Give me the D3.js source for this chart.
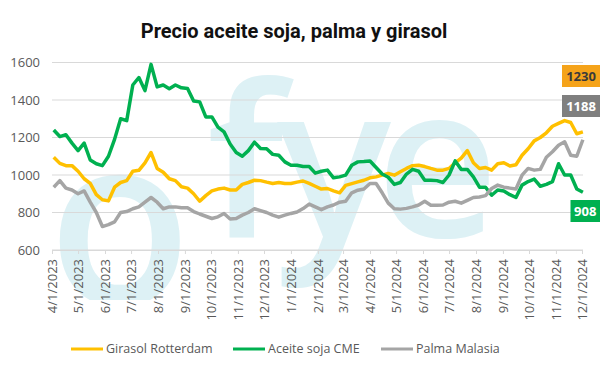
<!DOCTYPE html>
<html>
<head>
<meta charset="utf-8">
<script src="https://d3js.org/d3.v7.min.js"></script>
<style>
  body { margin: 0; background: #fff; }
  svg { display: block; }
</style>
</head>
<body>
<script>
// weekly observations, first one on 3 Apr 2023, last one on 2 Dec 2024
var firstWeek = "2023-04-03";
var weekCount = 88;

// Girasol Rotterdam (USD/t)
var girasol = [1095, 1062, 1050, 1050, 1020, 980, 955, 895, 868, 862,
  935, 960, 970, 1020, 1025, 1065, 1120, 1035, 1015, 980,
  970, 937, 930, 900, 860, 890, 915, 925, 930, 920,
  920, 950, 960, 972, 970, 962, 955, 960, 955, 955,
  962, 968, 955, 940, 925, 928, 915, 905, 945, 954,
  963, 972, 985, 990, 999, 1008, 999, 1017, 1035, 1050,
  1052, 1045, 1035, 1026, 1026, 1035, 1065, 1090, 1130, 1065,
  1035, 1040, 1026, 1060, 1065, 1048, 1055, 1105, 1140, 1182,
  1200, 1225, 1260, 1275, 1290, 1280, 1220, 1230];

// Aceite soja CME
var soja = [1240, 1205, 1215, 1170, 1130, 1170, 1080, 1060, 1050, 1100,
  1190, 1300, 1290, 1480, 1520, 1450, 1590, 1470, 1480, 1460,
  1480, 1465, 1461, 1395, 1390, 1310, 1310, 1255, 1230, 1165,
  1120, 1100, 1130, 1175, 1141, 1140, 1110, 1105, 1070, 1052,
  1052, 1045, 1045, 1010, 1020, 1026, 985, 990, 999, 1052,
  1070, 1072, 1075, 1040, 1005, 988, 950, 960, 1005, 1030,
  1020, 972, 972, 970, 960, 1000, 1075, 1030, 1030, 990,
  935, 935, 892, 920, 915, 895, 880, 946, 965, 978,
  940, 950, 965, 1060, 1000, 1000, 925, 908];

// Palma Malasia
var palma = [935, 970, 930, 920, 900, 915, 855, 800, 725, 735,
  750, 800, 805, 820, 830, 855, 880, 855, 820, 830,
  830, 825, 825, 805, 792, 780, 768, 777, 795, 765,
  768, 786, 800, 820, 810, 800, 786, 775, 786, 795,
  803, 821, 845, 830, 815, 830, 840, 855, 860, 905,
  919, 925, 955, 955, 905, 850, 820, 818, 822, 830,
  840, 860, 839, 839, 840, 855, 860, 850, 865, 880,
  883, 890, 928, 946, 935, 930, 925, 999, 1035, 1026,
  1030, 1095, 1124, 1159, 1177, 1105, 1100, 1188];

var seriesNames = ["Girasol Rotterdam", "Aceite soja CME", "Palma Malasia"];
var seriesColors = ["#ffc000", "#00b050", "#a5a5a5"];
var yTicks = [600, 800, 1000, 1200, 1400, 1600];
var endLabels = ["1230", "1188", "908"];

var w = 600, h = 372;
var svg = d3.select("body").append("svg").attr("width", w).attr("height", h);
var defs = svg.append("defs");

var t0 = d3.utcParse("%Y-%m-%d")(firstWeek);
var dates = d3.range(weekCount).map(function(i) { return d3.utcDay.offset(t0, 7 * i); });

var x = d3.scaleUtc()
  .domain([new Date(Date.UTC(2023, 3, 1)), new Date(Date.UTC(2024, 11, 1))])
  .range([52, 582]);
var y = d3.scaleLinear().domain([600, 1600]).range([250, 62.5]);

// faint "ofye" watermark behind the plot
defs.append("clipPath").attr("id", "wmclip")
  .append("rect").attr("x", 0).attr("y", 50).attr("width", w).attr("height", 250);
var wm = svg.append("text")
  .attr("clip-path", "url(#wmclip)")
  .style("font-family", "'Open Sans', sans-serif")
  .style("font-weight", 600)
  .style("font-size", "213px")
  .style("fill", "#ddf1f5");
wm.append("tspan").attr("x", 48).attr("y", 305).style("font-size", "235px").text("o");
[["f", 207], ["y", 277], ["e", 376]].forEach(function(l) {
  wm.append("tspan").attr("x", l[1]).attr("y", 237).text(l[0]);
});

// title
svg.append("text")
  .attr("x", 294).attr("y", 38)
  .attr("text-anchor", "middle")
  .style("font-family", "Roboto, sans-serif")
  .style("font-weight", 700)
  .style("font-size", "20px")
  .style("fill", "#111")
  .text("Precio aceite soja, palma y girasol");

// gridlines
svg.append("g").selectAll("line")
  .data(yTicks)
  .enter().append("line")
  .attr("x1", 52).attr("x2", 583)
  .attr("y1", function(d) { return y(d); })
  .attr("y2", function(d) { return y(d); })
  .style("stroke", "#d9d9d9")
  .style("stroke-width", 1);

// y axis labels
var yAxis = d3.axisLeft(y).tickValues(yTicks).tickSize(0).tickPadding(12).tickFormat(d3.format("d"));
var gy = svg.append("g").attr("transform", "translate(52,0)").call(yAxis);
gy.select(".domain").remove();
gy.selectAll("text")
  .style("font-family", "'Open Sans', sans-serif")
  .style("font-size", "13px")
  .style("fill", "#595959");

// x axis, labels cut off at the bottom like the original
var months = d3.utcMonth.range(x.domain()[0], d3.utcDay.offset(x.domain()[1], 1));
var xAxis = d3.axisBottom(x).tickValues(months).tickSize(4).tickFormat(d3.utcFormat("%-m/%-d/%Y"));
defs.append("clipPath").attr("id", "xclip")
  .append("rect").attr("x", 0).attr("y", -5).attr("width", w).attr("height", 77);
var gx = svg.append("g")
  .attr("transform", "translate(0,250)")
  .attr("clip-path", "url(#xclip)")
  .call(xAxis);
gx.select(".domain").style("stroke", "#d9d9d9");
gx.selectAll(".tick line").style("stroke", "#d9d9d9");
gx.selectAll("text")
  .attr("transform", "rotate(-90)")
  .attr("x", -9).attr("y", 0).attr("dy", "0.35em")
  .style("text-anchor", "end")
  .style("font-family", "'Open Sans', sans-serif")
  .style("font-size", "13px")
  .style("fill", "#595959");

// lines
var line = d3.line()
  .x(function(d, i) { return x(dates[i]); })
  .y(function(d) { return y(d); });

[girasol, soja, palma].forEach(function(s, i) {
  svg.append("path")
    .datum(s)
    .attr("d", line)
    .style("fill", "none")
    .style("stroke", seriesColors[i])
    .style("stroke-width", 3.5)
    .style("stroke-linejoin", "round");
});

// value tags on the right
var tagColors = ["#f5a31a", "#7f7f7f", "#00b050"];
var tagText = ["#3a3a3a", "#fff", "#fff"];
var tagY = [65, 95, 200];
endLabels.forEach(function(v, i) {
  var bw = v.length * 8.5 + 4;
  svg.append("rect")
    .attr("x", 600 - bw).attr("y", tagY[i])
    .attr("width", bw).attr("height", 22)
    .style("fill", tagColors[i]);
  svg.append("text")
    .attr("x", 600 - bw / 2).attr("y", tagY[i] + 16)
    .attr("text-anchor", "middle")
    .style("font-family", "'Open Sans', sans-serif")
    .style("font-weight", 700)
    .style("font-size", "13px")
    .style("fill", tagText[i])
    .text(v);
});

// legend
var legX = [71, 233, 381];
seriesNames.forEach(function(n, i) {
  var g = svg.append("g").attr("transform", "translate(" + legX[i] + ",349)");
  g.append("line").attr("x1", 0).attr("x2", 32)
    .style("stroke", seriesColors[i]).style("stroke-width", 3);
  g.append("text").attr("x", 35).attr("dy", "0.35em")
    .style("font-family", "'Open Sans', sans-serif")
    .style("font-size", "12.5px")
    .style("fill", "#595959")
    .text(n);
});
</script>
</body>
</html>
